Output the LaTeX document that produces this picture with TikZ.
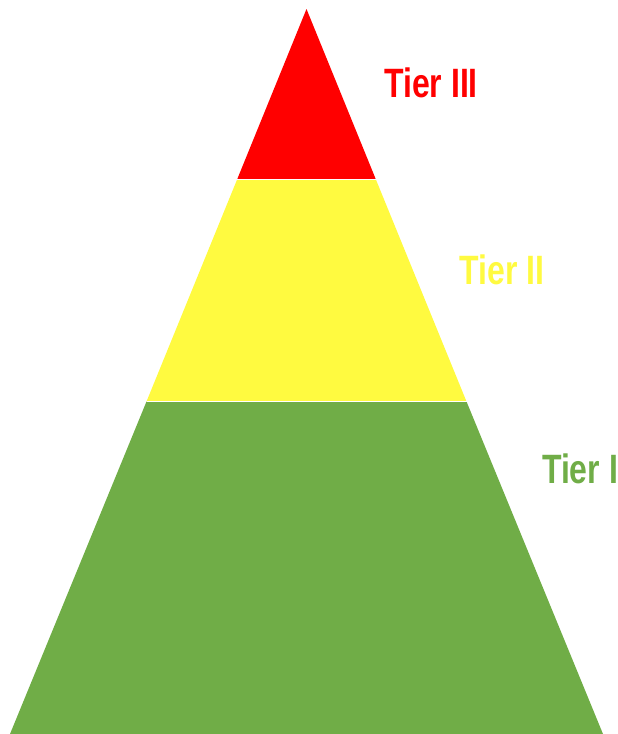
\documentclass[tikz,border=0pt]{standalone}
\usepackage{fontspec}
\setmainfont{Liberation Sans}

\definecolor{tierred}{RGB}{255,0,0}
\definecolor{tieryellow}{RGB}{255,250,64}
\definecolor{tiergreen}{RGB}{112,173,71}

\begin{document}
\begin{tikzpicture}[
    x=1pt, y=-1pt, % ピクセル単位
    tierlabel/.style={font=\bfseries\fontsize{41}{41}\selectfont, xscale=0.78, transform shape, inner sep=0pt},
    ]

    % --- 余白 ---
    \useasboundingbox (0,0) rectangle (618,734);

    % --- ピラミッド ---
    % 頂点と底辺
    \coordinate (apex) at (306.5,9);
    \coordinate (baseL) at (10,734);
    \coordinate (baseR) at (603,734);

    % 各段の境界
    \coordinate (midL3) at (237.3,179);
    \coordinate (midR3) at (375.7,179);
    \coordinate (midL2) at (146.5,401.5);
    \coordinate (midR2) at (466.5,401.5);

    % Tier I (下段)
    \fill[tiergreen] (midL2) -- (midR2) -- (baseR) -- (baseL) -- cycle;
    % Tier II (中段)
    \fill[tieryellow] (midL3) -- (midR3) -- (midR2) -- (midL2) -- cycle;
    % Tier III (上段)
    \fill[tierred] (apex) -- (midR3) -- (midL3) -- cycle;

    % 段の間の白い線
    \draw[white, line width=1pt] (midL3) -- (midR3);
    \draw[white, line width=1pt] (midL2) -- (midR2);

    % --- ラベル ---
    \node[tierlabel, text=tierred] (tier3) at (431,83) {Tier III};
    \node[tierlabel, text=tieryellow] (tier2) at (502,270) {Tier II};
    \node[tierlabel, text=tiergreen] (tier1) at (580,469) {Tier I};

\end{tikzpicture}
\end{document}
